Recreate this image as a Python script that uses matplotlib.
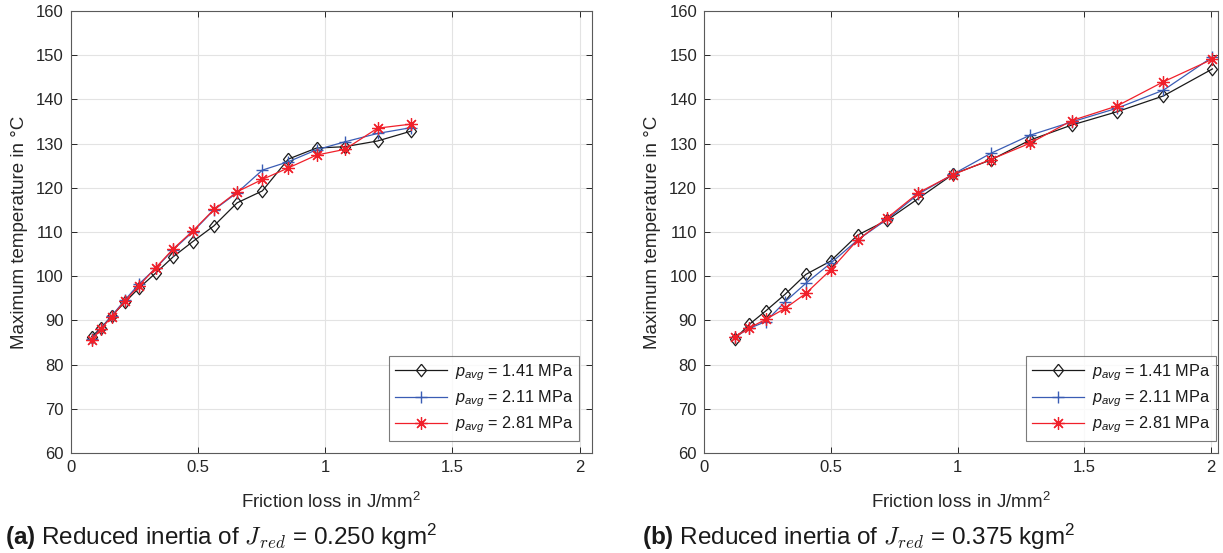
import numpy as np
import matplotlib
matplotlib.use('Agg')
import matplotlib.pyplot as plt

## Fonts: Arial-like text, italic sans for p_avg, CM italic for J_red
plt.rcParams['font.family'] = ['Liberation Sans', 'DejaVu Sans']
plt.rcParams['mathtext.fontset'] = 'custom'
plt.rcParams['mathtext.rm'] = 'Liberation Sans'
plt.rcParams['mathtext.it'] = 'Liberation Sans:italic'
plt.rcParams['mathtext.bf'] = 'Liberation Sans:bold'
plt.rcParams['mathtext.sf'] = 'cmmi10'

## Data: friction loss (J/mm^2) and max temperature (degC)
## (a) J_red = 0.250 kgm^2
loss_a = [0.082, 0.118, 0.161, 0.213, 0.268, 0.334, 0.403, 0.479,
          0.563, 0.654, 0.753, 0.855, 0.966, 1.077, 1.206, 1.336]
temp_a_141 = [86.3, 88.2, 91.0, 94.1, 97.3, 100.7, 104.4, 107.8,
              111.4, 116.6, 119.3, 126.5, 129.0, 129.3, 130.6, 132.8]
temp_a_211 = [85.8, 88.1, 91.0, 94.6, 98.2, 101.8, 106.0, 110.0,
              115.0, 118.9, 124.0, 125.9, 128.6, 130.4, 132.3, 133.6]
temp_a_281 = [85.6, 88.0, 90.8, 94.4, 97.8, 101.9, 106.2, 110.2,
              115.1, 119.1, 121.9, 124.5, 127.4, 128.7, 133.5, 134.4]

## (b) J_red = 0.375 kgm^2
loss_b = [0.122, 0.179, 0.243, 0.320, 0.402, 0.499, 0.606, 0.723,
          0.846, 0.983, 1.131, 1.286, 1.450, 1.628, 1.812, 2.005]
temp_b_141 = [85.8, 89.1, 92.1, 95.9, 100.4, 103.4, 109.3, 112.7,
              117.6, 123.1, 126.3, 130.8, 134.2, 137.2, 140.8, 146.9]
temp_b_211 = [86.2, 88.2, 89.7, 94.2, 98.4, 102.9, 108.2, 112.9,
              118.6, 123.1, 127.8, 131.9, 134.9, 138.0, 142.1, 149.6]
temp_b_281 = [86.2, 88.3, 90.2, 92.7, 96.1, 101.4, 108.2, 113.2,
              118.9, 123.0, 126.4, 130.1, 135.2, 138.5, 144.0, 149.1]

labels = [r'$p_{avg}$ = 1.41 MPa', r'$p_{avg}$ = 2.11 MPa', r'$p_{avg}$ = 2.81 MPa']
captions = [r'$\mathbf{(a)}$ Reduced inertia of $\mathsf{J_{red}}$ = 0.250 kgm$^2$',
            r'$\mathbf{(b)}$ Reduced inertia of $\mathsf{J_{red}}$ = 0.375 kgm$^2$']

panels = [(loss_a, [temp_a_141, temp_a_211, temp_a_281], 2.047),
          (loss_b, [temp_b_141, temp_b_211, temp_b_281], 2.027)]

## open diamond, a bit taller than wide
diamond = [(0, 1), (0.8, 0), (0, -1), (-0.8, 0), (0, 1)]
styles = [dict(color='#1a1a1a', marker=diamond, markersize=9, mfc='none', mec='#1a1a1a', mew=0.9),
          dict(color='#3a5cb4', marker='+', markersize=9, mew=1.0),
          dict(color='#f0202a', marker=(8, 2, 0), markersize=9, mew=0.9)]

fig = plt.figure(figsize=(12.23, 5.53), dpi=100)
axes_pos = [[0.0578, 0.181, 0.4260, 0.799],
            [0.5756, 0.181, 0.4203, 0.799]]
## lower-right legend corners in figure fraction
legend_anchor = [(0.4734, 0.2025), (0.9943, 0.2025)]
grey = '#262626'

for i, (loss, temps, xmax) in enumerate(panels):
    ax = fig.add_axes(axes_pos[i])
    for t, lab, st in zip(temps, labels, styles):
        ax.plot(loss, t, linewidth=0.9, label=lab, **st)
    ax.set_xlim(0, xmax)
    ax.set_ylim(60, 160)
    ax.set_xticks([0, 0.5, 1, 1.5, 2])
    ax.set_xticklabels(['0', '0.5', '1', '1.5', '2'])
    ax.set_yticks(np.arange(60, 161, 10))
    ax.grid(True, color='#e3e3e3', linewidth=0.8)
    ax.set_axisbelow(True)
    ax.tick_params(direction='in', top=True, right=True, length=4,
                   width=0.7, color=grey, labelsize=12, labelcolor=grey, pad=5)
    for sp in ax.spines.values():
        sp.set_color('#5a5a5a')
        sp.set_linewidth(0.8)
    ax.set_xlabel('Friction loss in J/mm$^2$', fontsize=13.5, color=grey, labelpad=12)
    ax.set_ylabel('Maximum temperature in \u00b0C', fontsize=13.5, color=grey, labelpad=6)
    leg = ax.legend(loc='lower right', bbox_to_anchor=legend_anchor[i],
                    bbox_transform=fig.transFigure, borderaxespad=0,
                    fontsize=11.7, frameon=True, fancybox=False,
                    edgecolor='#5a5a5a', handlelength=3.2,
                    labelspacing=0.35, borderpad=0.35, handletextpad=0.5)
    leg.get_frame().set_linewidth(0.8)
    for txt in leg.get_texts():
        txt.set_color('#1a1a1a')

## Sub-figure captions
fig.text(0.004, 0.0145, captions[0], fontsize=17.5, color='#1a1a1a', math_fontfamily='custom')
fig.text(0.525, 0.0145, captions[1], fontsize=17.5, color='#1a1a1a', math_fontfamily='custom')

plt.savefig('out.png', dpi=100)
plt.close()
